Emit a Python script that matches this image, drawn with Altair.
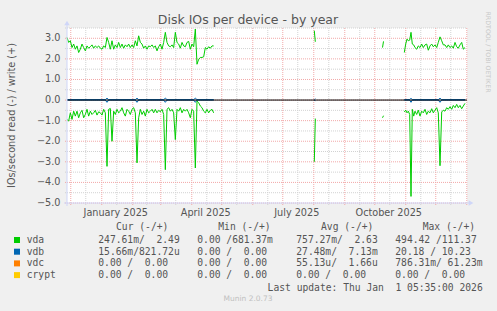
import altair as alt
import pandas as pd

# ---------------- data ----------------
START = "2024-11-27 05:35:00"
END = "2026-01-01 05:35:00"

# vda, segment 1: samples every 5/3 day from START
vda_s1_write = [3.04, 2.80, 2.88, 2.55, 2.72, 2.47, 2.63, 2.31, 2.47, 2.72, 2.55, 2.39, 2.63, 2.52, 2.59,
                2.68, 2.52, 2.63, 2.55, 2.63, 2.52, 2.47, 2.63, 2.55, 3.04, 2.80, 2.47, 2.88, 2.47, 2.68,
                2.55, 2.80, 2.55, 2.72, 2.52, 2.68, 2.59, 2.72, 2.55, 2.68, 2.55, 2.88, 2.63, 3.12, 2.80,
                2.72, 2.52, 2.63, 2.47, 2.63, 2.59, 2.68, 2.55, 2.63, 2.39, 2.59, 2.72, 2.47, 2.80, 3.29,
                2.80, 2.63, 2.59, 2.68, 2.55, 3.29, 2.80, 2.72, 2.52, 2.80, 2.63, 2.59, 2.80, 2.85, 2.47,
                2.72, 2.59, 3.45, 1.74, 1.98, 2.07, 2.07, 2.10, 2.55, 2.47, 2.59, 2.52, 2.63, 2.63]
vda_s1_read = [-0.94, -1.02, -0.62, -0.94, -0.54, -0.78, -0.54, -0.86, -0.62, -0.50, -0.86, -0.70, -0.45, -0.78, -0.54,
               -0.70, -0.62, -0.50, -0.73, -0.57, -0.62, -0.73, -0.45, -0.62, -3.22, -0.45, -0.41, -2.00, -0.54, -0.70,
               -0.45, -0.62, -0.54, -0.37, -0.62, -0.78, -0.45, -0.54, -0.70, -0.45, -0.37, -0.62, -3.05, -0.86, -0.45,
               -0.70, -0.54, -0.78, -0.45, -0.62, -0.54, -0.45, -0.62, -0.45, -0.62, -0.50, -0.57, -0.45, -0.70, -3.38,
               -0.45, -0.37, -0.54, -0.45, -0.62, -1.92, -0.45, -0.54, -0.37, -0.62, -0.45, -0.54, -0.45, -0.62, -0.86,
               -0.45, -0.54, -3.30, -0.05, -0.13, -0.29, -0.37, -0.54, -0.62, -0.45, -0.62, -0.50, -0.45, -0.62]
vda_s1_days = [round(k * 5 / 3, 2) for k in range(len(vda_s1_write))]

vda_s2_days = [247.3, 248.3]
vda_s2_write = [3.37, 2.83]
vda_s2_read = [-3.00, -0.90]

vda_s3_days = [315.5, 316.5]
vda_s3_write = [2.55, 2.85]
vda_s3_read = [-0.86, -0.76]

vda_s4_days = [337.3, 338.7, 340.0, 341.3, 342.7, 344.0, 345.3, 346.7, 348.0, 349.7, 351.3, 353.0, 354.7,
               356.3, 358.0, 359.7, 361.3, 363.0, 364.7, 366.3, 368.0, 369.7, 371.3, 373.0, 374.7, 376.3,
               378.0, 379.7, 381.3, 383.0, 384.7, 386.3, 388.0, 389.7, 391.3, 393.0, 394.7, 396.3, 398.0]
vda_s4_write = [2.31, 2.72, 2.96, 2.88, 2.91, 3.29, 2.72, 2.68, 2.55, 2.47, 2.63, 2.55, 2.72,
                2.55, 2.68, 2.72, 2.42, 2.63, 2.72, 2.59, 2.68, 2.55, 2.80, 3.07, 2.88, 2.68,
                2.68, 2.55, 2.68, 2.55, 2.63, 2.52, 2.80, 2.59, 2.52, 2.68, 2.80, 2.47, 2.55]
vda_s4_read = [-0.58, -0.49, -0.62, -0.54, -0.70, -4.68, -0.45, -0.78, -0.54, -0.70, -0.49, -0.78, -0.54,
               -0.62, -0.45, -0.70, -0.54, -0.62, -0.42, -0.62, -0.49, -0.37, -0.62, -3.19, -0.58, -0.49,
               -0.54, -0.37, -0.45, -0.32, -0.45, -0.26, -0.37, -0.21, -0.37, -0.26, -0.42, -0.29, -0.16]

# vdb (tiny values around zero, small blips)
vdb_days = [[0.0, 38.3, 40.0, 41.7, 68.3, 70.0, 71.7, 96.7, 98.3, 100.0, 126.7, 128.3, 130.0, 146.7],
            [247.3, 248.3],
            [337.3, 342.7, 344.0, 345.3, 371.3, 373.0, 374.7, 398.0]]
vdb_write = [[0.02, 0.02, 0.09, 0.02, 0.02, 0.09, 0.02, 0.02, 0.09, 0.02, 0.02, 0.09, 0.02, 0.02],
             [0.02, 0.07],
             [0.02, 0.02, 0.09, 0.02, 0.02, 0.09, 0.02, 0.02]]
vdb_read = [[0.0, 0.0, -0.11, 0.0, 0.0, -0.11, 0.0, 0.0, -0.11, 0.0, 0.0, -0.11, 0.0, 0.0],
            [0.0, -0.05],
            [0.0, 0.0, -0.11, 0.0, 0.0, -0.11, 0.0, 0.0]]

y_ticks = [3, 2, 1, 0, -1, -2, -3, -4, -5]
y_minor = [3.5, 2.5, 1.5, 0.5, -0.5, -1.5, -2.5, -3.5, -4.5]
month_starts = ["2024-12-01", "2025-01-01", "2025-02-01", "2025-03-01", "2025-04-01", "2025-05-01",
                "2025-06-01", "2025-07-01", "2025-08-01", "2025-09-01", "2025-10-01", "2025-11-01",
                "2025-12-01", "2026-01-01"]
mid_months = ["2024-12-16", "2025-01-16", "2025-02-15", "2025-03-16", "2025-04-16", "2025-05-16",
              "2025-06-16", "2025-07-16", "2025-08-16", "2025-09-16", "2025-10-16", "2025-11-16",
              "2025-12-16"]
x_label_dates = ["2025-01-15", "2025-04-15", "2025-07-15", "2025-10-15"]
x_labels = ["January 2025", "April 2025", "July 2025", "October 2025"]

legend_names = ["vda", "vdb", "vdc", "crypt"]
legend_colors = ["#00CC00", "#0066B3", "#FF8000", "#FFCC00"]
legend_headers = ["Cur (-/+)", "Min (-/+)", "Avg (-/+)", "Max (-/+)"]
legend_cells = [
    ["247.61m/  2.49 ", "  0.00 /681.37m", "757.27m/  2.63 ", "494.42 /111.37 "],
    [" 15.66m/821.72u", "  0.00 /  0.00 ", " 27.48m/  7.13m", " 20.18 / 10.23 "],
    ["  0.00 /  0.00 ", "  0.00 /  0.00 ", " 55.13u/  1.66u", "786.31m/ 61.23m"],
    ["  0.00 /  0.00 ", "  0.00 /  0.00 ", "  0.00 /  0.00 ", "  0.00 /  0.00 "],
]
title_text = "Disk IOs per device - by year"
ylabel_text = "IOs/second read (-) / write (+)"
last_update = "Last update: Thu Jan  1 05:35:00 2026"
munin_ver = "Munin 2.0.73"
watermark = "RRDTOOL / TOBI OETIKER"

# ---------------- build tables ----------------
t0 = pd.Timestamp(START, tz="UTC").value // 10**6
t1 = pd.Timestamp(END, tz="UTC").value // 10**6
DAY = 86400000


def ms(s):
    return pd.Timestamp(s, tz="UTC").value // 10**6


rows = []
vda_segs = [(vda_s1_days, vda_s1_write, vda_s1_read), (vda_s2_days, vda_s2_write, vda_s2_read),
            (vda_s3_days, vda_s3_write, vda_s3_read), (vda_s4_days, vda_s4_write, vda_s4_read)]
for i, (ds, w, r) in enumerate(zip(vdb_days, vdb_write, vdb_read)):
    for d, a, b in zip(ds, w, r):
        rows.append({"t": t0 + d * DAY, "v": a, "key": f"a_vdb_w{i}", "col": "#0066B3", "ord": d})
        rows.append({"t": t0 + d * DAY, "v": b, "key": f"a_vdb_r{i}", "col": "#0066B3", "ord": d})
vdb_df = pd.DataFrame(rows)
rows = []
for i, (ds, w, r) in enumerate(vda_segs):
    for d, a, b in zip(ds, w, r):
        rows.append({"t": t0 + d * DAY, "v": a, "key": f"b_vda_w{i}", "col": "#00CC00", "ord": d})
        rows.append({"t": t0 + d * DAY, "v": b, "key": f"b_vda_r{i}", "col": "#00CC00", "ord": d})
vda_df = pd.DataFrame(rows)

xscale = alt.Scale(type="utc", domain=[t0, t1])
yscale = alt.Scale(domain=[-5, 3.5], nice=False, zero=False)

FONT = "DejaVu Sans"
MONO = "DejaVu Sans Mono"
TXT = "#555555"
RED = "#F2A8A8"
GRAY = "#D2D2D2"

# grid
hmin = alt.Chart(pd.DataFrame({"y": y_minor})).mark_rule(
    color=GRAY, strokeDash=[1, 1], strokeWidth=1).encode(
    y=alt.Y("y:Q", scale=yscale, axis=None), x=alt.value(-2), x2=alt.value(400))
vmin = alt.Chart(pd.DataFrame({"t": [ms(m) for m in mid_months]})).mark_rule(
    color=GRAY, strokeDash=[1, 1], strokeWidth=1).encode(
    x=alt.X("t:T", scale=xscale, axis=None), y=alt.value(0), y2=alt.value(177))
hmaj = alt.Chart(pd.DataFrame({"y": y_ticks})).mark_rule(
    color=RED, strokeDash=[1, 1], strokeWidth=1).encode(
    y=alt.Y("y:Q", scale=yscale, axis=None), x=alt.value(-2), x2=alt.value(400))
vmaj = alt.Chart(pd.DataFrame({"t": [ms(m) for m in month_starts]})).mark_rule(
    color=RED, strokeDash=[1, 1], strokeWidth=1).encode(
    x=alt.X("t:T", scale=xscale, axis=None), y=alt.value(0), y2=alt.value(178))

zero = alt.Chart(pd.DataFrame({"y": [0]})).mark_rule(color="#000000", strokeWidth=1).encode(
    y=alt.Y("y:Q", scale=yscale, axis=None), x=alt.value(0), x2=alt.value(400))


def series(df):
    return alt.Chart(df).mark_line(strokeWidth=1.0, interpolate="linear").encode(
        x=alt.X("t:T", scale=xscale, axis=None),
        y=alt.Y("v:Q", scale=yscale, axis=None),
        detail="key:N",
        order="ord:Q",
        color=alt.Color("col:N", scale=None),
    )


vda_lines = series(vda_df)
vdb_lines = series(vdb_df)

# axes (light blue) with arrows
AX = "#CFD6F8"
yaxis = alt.Chart(pd.DataFrame({"a": [0]})).mark_rule(color=AX, strokeWidth=1).encode(
    x=alt.value(0), y=alt.value(-3), y2=alt.value(178))
xaxis = alt.Chart(pd.DataFrame({"a": [0]})).mark_rule(color=AX, strokeWidth=1).encode(
    x=alt.value(-3), x2=alt.value(403), y=alt.value(175))
arrow_up = alt.Chart(pd.DataFrame({"a": [0]})).mark_point(
    shape="triangle-up", filled=True, color=AX, size=30, opacity=1).encode(
    x=alt.value(0), y=alt.value(-5))
arrow_right = alt.Chart(pd.DataFrame({"a": [0]})).mark_point(
    shape="triangle-right", filled=True, color=AX, size=30, opacity=1).encode(
    x=alt.value(404), y=alt.value(175))

# axis labels
ylab = alt.Chart(pd.DataFrame({"y": y_ticks})).mark_text(
    align="right", baseline="middle", font=FONT, fontSize=9.7, color=TXT).encode(
    y=alt.Y("y:Q", scale=yscale, axis=None), x=alt.value(-6.5),
    text=alt.Text("y:Q", format=".1f"))
xlab = alt.Chart(pd.DataFrame({"t": [ms(d) for d in x_label_dates], "lab": x_labels})).mark_text(
    align="center", baseline="middle", font=FONT, fontSize=9.7, color=TXT).encode(
    x=alt.X("t:T", scale=xscale, axis=None), y=alt.value(184.5), text="lab:N")

title = alt.Chart(pd.DataFrame({"s": [title_text]})).mark_text(
    align="center", baseline="alphabetic", font=FONT, fontSize=12.5, color=TXT).encode(
    x=alt.value(181), y=alt.value(-4.5), text="s:N")
ytitle = alt.Chart(pd.DataFrame({"s": [ylabel_text]})).mark_text(
    align="center", baseline="middle", font=FONT, fontSize=9.7, color=TXT, angle=270).encode(
    x=alt.value(-55), y=alt.value(87.5), text="s:N")
wm = alt.Chart(pd.DataFrame({"s": [watermark]})).mark_text(
    align="center", baseline="middle", font=FONT, fontSize=6.3, color="#C8C8C8", angle=90).encode(
    x=alt.value(421), y=alt.value(24), text="s:N")

# legend
NB = "\u00a0"
row_y = [212.0, 223.7, 235.4, 247.1]
cell_x = [31.3, 130.3, 229.3, 328.3]
head_x = [49.0, 151.3, 254.0, 355.7]
sq = alt.Chart(pd.DataFrame({"y": row_y, "c": legend_colors})).mark_point(
    shape="square", filled=True, size=36, opacity=1).encode(
    x=alt.value(-50), y=alt.Y("y:Q", scale=None), color=alt.Color("c:N", scale=None))
names = alt.Chart(pd.DataFrame({"y": row_y, "n": legend_names})).mark_text(
    align="left", baseline="middle", font=MONO, fontSize=9.67, color=TXT).encode(
    x=alt.value(-40.3), y=alt.Y("y:Q", scale=None), text="n:N")
cell_rows = []
for ry, cells in zip(row_y, legend_cells):
    for cx, c in zip(cell_x, cells):
        cell_rows.append({"x": cx, "y": ry, "s": c.replace(" ", NB)})
cells_ch = alt.Chart(pd.DataFrame(cell_rows)).mark_text(
    align="left", baseline="middle", font=MONO, fontSize=9.67, color=TXT).encode(
    x=alt.X("x:Q", scale=None), y=alt.Y("y:Q", scale=None), text="s:N")
heads = alt.Chart(pd.DataFrame({"x": head_x, "s": [h.replace(" ", NB) for h in legend_headers]})).mark_text(
    align="left", baseline="middle", font=MONO, fontSize=9.67, color=TXT).encode(
    x=alt.X("x:Q", scale=None), y=alt.value(199.3), text="s:N")
upd = alt.Chart(pd.DataFrame({"s": [last_update.replace(" ", NB)]})).mark_text(
    align="right", baseline="middle", font=MONO, fontSize=9.67, color=TXT).encode(
    x=alt.value(415.7), y=alt.value(259.7), text="s:N")
ver = alt.Chart(pd.DataFrame({"s": [munin_ver]})).mark_text(
    align="center", baseline="middle", font=FONT, fontSize=7.5, color="#C0C0C0").encode(
    x=alt.value(181), y=alt.value(271.3), text="s:N")

chart = alt.layer(
    hmin, vmin, hmaj, vmaj, vdb_lines, zero, vda_lines, yaxis, xaxis, arrow_up, arrow_right,
    ylab, xlab, title, ytitle, wm, sq, names, cells_ch, heads, upd, ver
).resolve_scale(x="independent", y="independent").properties(
    width=400, height=175,
    autosize=alt.AutoSizeParams(type="none"),
    padding={"left": 67, "top": 28, "right": 30, "bottom": 108},
    background="#F0F0F0",
).configure_view(fill="#FFFFFF", stroke=None)

chart.save("out.html", embed_options={"renderer": "svg", "actions": False})
